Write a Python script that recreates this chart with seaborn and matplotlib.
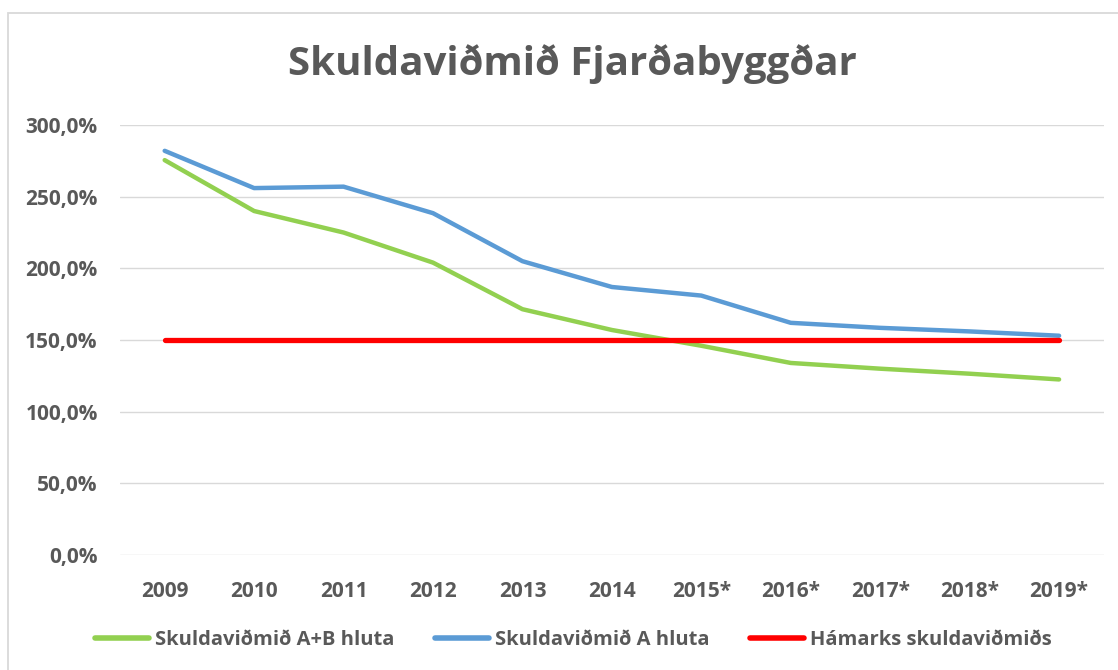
import pandas as pd
import matplotlib.pyplot as plt
import seaborn as sns
from matplotlib.patches import Rectangle

# Data (percent)
years = ['2009', '2010', '2011', '2012', '2013', '2014',
         '2015*', '2016*', '2017*', '2018*', '2019*']
ab_hluta = [275.5, 240.0, 225.0, 204.0, 171.5, 157.0, 146.0, 134.0, 130.0, 126.5, 122.5]
a_hluta = [282.0, 256.0, 257.0, 238.5, 205.0, 187.0, 181.0, 162.0, 158.5, 156.0, 153.0]
hamark = [150.0] * len(years)

series_names = ['Skuldaviðmið A+B hluta', 'Skuldaviðmið A hluta', 'Hámarks skuldaviðmiðs']
colors = ['#92D050', '#5B9BD5', '#FF0000']

sns.set_theme(style="white")
plt.rcParams['font.family'] = ['Open Sans', 'DejaVu Sans']
grey = '#595959'

df = pd.DataFrame({'Ár': years, series_names[0]: ab_hluta,
                   series_names[1]: a_hluta, series_names[2]: hamark})
long = df.melt(id_vars='Ár', var_name='Röð', value_name='Hlutfall')

fig = plt.figure(figsize=(11.18, 6.70), dpi=100)
ax = fig.add_axes([0.1073, 0.1716, 0.880, 0.6418])

sns.lineplot(data=long, x='Ár', y='Hlutfall', hue='Röð', hue_order=series_names,
             palette=colors, sort=False, ax=ax, legend=False, zorder=3)
for line, lw in zip(ax.get_lines(), [3.2, 3.2, 3.8]):
    line.set_linewidth(lw)
    line.set_solid_capstyle('round')

ax.set_xlim(-0.5, len(years) - 0.5)
ax.set_ylim(0, 300)
ax.set_yticks(range(0, 301, 50))
ax.set_yticklabels([f'{v},0%' for v in range(0, 301, 50)])
ax.yaxis.grid(True, color='#d9d9d9', linewidth=1)
ax.xaxis.grid(False)
for s in ax.spines.values():
    s.set_visible(False)
ax.tick_params(axis='y', length=0, pad=16, labelsize=15, labelcolor=grey)
ax.tick_params(axis='x', length=0, pad=19, labelsize=15, labelcolor=grey)
for lab in ax.get_xticklabels() + ax.get_yticklabels():
    lab.set_fontweight('bold')
ax.set_xlabel('')
ax.set_ylabel('')

fig.text(0.512, 0.905, 'Skuldaviðmið Fjarðabyggðar', ha='center', va='center',
         fontsize=29, fontweight='bold', color=grey)

handles = [plt.Line2D([], [], color=c, linewidth=4, solid_capstyle='round') for c in colors]
leg = fig.legend(handles, series_names, loc='center', bbox_to_anchor=(0.513, 0.045),
                 ncol=3, frameon=False, handlelength=2.7, handletextpad=0.3,
                 columnspacing=2.0, prop={'size': 14.5, 'weight': 'bold'})
for t in leg.get_texts():
    t.set_color(grey)

# light chart-area frame (top and left edges visible, like the cropped original)
fig.patches.append(Rectangle((0.0072, -0.1), 1.1, 1.0806, transform=fig.transFigure,
                             fill=False, edgecolor='#d9d9d9', linewidth=1.3))

fig.savefig('out.png', dpi=100)
